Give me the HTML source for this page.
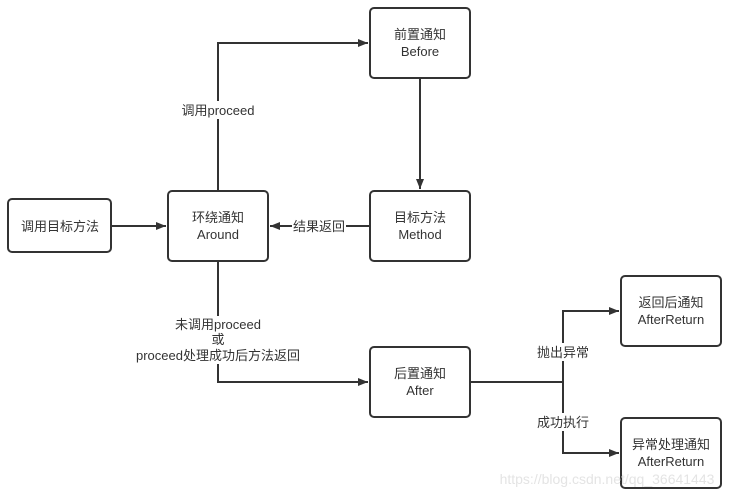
<!DOCTYPE html>
<html><head><meta charset="utf-8"><style>
body{margin:0;background:#fff;}
svg text{font-family:"Liberation Sans","Noto Sans CJK SC",sans-serif;font-size:13px;fill:#333;}
</style></head><body>
<svg width="733" height="499" viewBox="0 0 733 499" xmlns="http://www.w3.org/2000/svg">
<defs><marker id="a" markerWidth="10" markerHeight="8" refX="10" refY="4" orient="auto" markerUnits="userSpaceOnUse"><path d="M0,0L10,4L0,8z" fill="#333"/></marker></defs>
<g fill="none" stroke="#333" stroke-width="2">
<rect x="8" y="199" width="103" height="53" rx="4"/>
<rect x="168" y="191" width="100" height="70" rx="4"/>
<rect x="370" y="8" width="100" height="70" rx="4"/>
<rect x="370" y="191" width="100" height="70" rx="4"/>
<rect x="370" y="347" width="100" height="70" rx="4"/>
<rect x="621" y="276" width="100" height="70" rx="4"/>
<rect x="621" y="418" width="100" height="70" rx="4"/>
<path d="M111,226H166" marker-end="url(#a)"/>
<path d="M218,191V43H368" marker-end="url(#a)"/>
<path d="M420,78V189" marker-end="url(#a)"/>
<path d="M370,226H346M292,226H270" marker-end="url(#a)"/>
<path d="M218,261V382H368" marker-end="url(#a)"/>
<path d="M470,382H563"/>
<path d="M563,382V311H619" marker-end="url(#a)"/>
<path d="M563,382V453H619" marker-end="url(#a)"/>
</g>
<rect x="170" y="101" width="96" height="18" fill="#fff"/>
<rect x="135" y="316" width="168" height="48" fill="#fff"/>
<rect x="532" y="343" width="62" height="18" fill="#fff"/>
<rect x="532" y="413" width="62" height="18" fill="#fff"/>
<g text-anchor="middle">
<text x="60" y="231">调用目标方法</text>
<text x="218" y="222">环绕通知</text><text x="218" y="239">Around</text>
<text x="420" y="39">前置通知</text><text x="420" y="56">Before</text>
<text x="420" y="222">目标方法</text><text x="420" y="239">Method</text>
<text x="420" y="378">后置通知</text><text x="420" y="395">After</text>
<text x="671" y="307">返回后通知</text><text x="671" y="324">AfterReturn</text>
<text x="671" y="449">异常处理通知</text><text x="671" y="466">AfterReturn</text>
<text x="218" y="115">调用proceed</text>
<text x="319" y="231">结果返回</text>
<text x="218" y="329">未调用proceed</text>
<text x="218" y="344">或</text>
<text x="218" y="360">proceed处理成功后方法返回</text>
<text x="563" y="357">抛出异常</text>
<text x="563" y="427">成功执行</text>
<text x="607" y="484" style="fill:#e4e4e4;font-size:14px">https://blog.csdn.net/qq_36641443</text>
</g>
</svg>
</body></html>
